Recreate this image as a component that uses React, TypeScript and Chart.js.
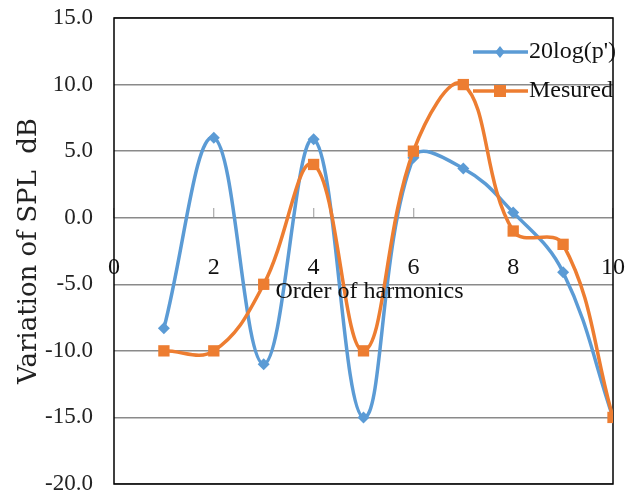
import { useEffect, useRef } from 'react';
import { Chart, registerables } from 'chart.js';

Chart.register(...registerables);

// ---- data ----
const harmonics = [1, 2, 3, 4, 5, 6, 7, 8, 9, 10];
const calc20log = [-8.3, 6.0, -11.0, 5.9, -15.0, 4.5, 3.7, 0.4, -4.1, -15.0];
const measured = [-10.0, -10.0, -5.0, 4.0, -10.0, 5.0, 10.0, -1.0, -2.0, -15.0];
const seriesLabels = ["20log(p')", 'Mesured'];
const seriesColors = ['#5B9BD5', '#ED7D31'];
const xTickValues = [0, 2, 4, 6, 8, 10];
const yTickValues = [-20, -15, -10, -5, 0, 5, 10, 15];
const xTitle = 'Order of harmonics';
const yTitle = 'Variation of SPL  dB';

const SERIF = '"Liberation Serif", "Times New Roman", serif';

const framePlugin = {
  id: 'frame',
  beforeDatasetsDraw(chart: any) {
    const { ctx, chartArea: a } = chart;
    ctx.save();
    ctx.strokeStyle = '#000';
    ctx.lineWidth = 1.5;
    ctx.strokeRect(a.left, a.top, a.right - a.left, a.bottom - a.top);
    ctx.restore();
  },
};

const xTitlePlugin = {
  id: 'xTitleOnZero',
  afterDraw(chart: any) {
    const { ctx, chartArea: a, scales } = chart;
    const y0 = scales.y.getPixelForValue(0);
    ctx.save();
    ctx.font = `24px ${SERIF}`;
    ctx.fillStyle = '#111';
    ctx.textAlign = 'center';
    ctx.textBaseline = 'middle';
    ctx.fillText(xTitle, (a.left + a.right) / 2 + 6, y0 + 74);
    ctx.restore();
  },
};

function drawMarker(ctx: CanvasRenderingContext2D, style: string, x: number, y: number, r: number) {
  ctx.beginPath();
  if (style === 'rectRot') {
    ctx.moveTo(x, y - r);
    ctx.lineTo(x + r * 0.8, y);
    ctx.lineTo(x, y + r);
    ctx.lineTo(x - r * 0.8, y);
    ctx.closePath();
  } else {
    const s = r * 0.75;
    ctx.rect(x - s, y - s, 2 * s, 2 * s);
  }
  ctx.fill();
}

const legendPlugin = {
  id: 'insideLegend',
  afterDraw(chart: any) {
    const { ctx, chartArea: a } = chart;
    ctx.save();
    chart.data.datasets.forEach((ds: any, i: number) => {
      const y = a.top + 34 + i * 39;
      const x0 = a.right - 140;
      ctx.strokeStyle = ds.borderColor;
      ctx.lineWidth = 3.5;
      ctx.beginPath();
      ctx.moveTo(x0, y);
      ctx.lineTo(x0 + 55, y);
      ctx.stroke();
      ctx.fillStyle = ds.backgroundColor;
      drawMarker(ctx, ds.pointStyle, x0 + 27, y, ds.pointStyle === 'rect' ? 8 : 6);
      ctx.font = `24px ${SERIF}`;
      ctx.fillStyle = '#111';
      ctx.textAlign = 'left';
      ctx.textBaseline = 'middle';
      ctx.fillText(ds.label, a.right - 84, y);
    });
    ctx.restore();
  },
};

export default function App() {
  const ref = useRef<HTMLCanvasElement | null>(null);

  useEffect(() => {
    if (!ref.current) return;
    const chart = new Chart(ref.current, {
      type: 'line',
      data: {
        datasets: [
          {
            label: seriesLabels[0],
            data: harmonics.map((h, i) => ({ x: h, y: calc20log[i] })),
            borderColor: seriesColors[0],
            backgroundColor: seriesColors[0],
            borderWidth: 3.5,
            pointStyle: 'rectRot',
            pointRadius: 6,
            pointBorderWidth: 0,
            tension: 0.4,
            order: 1,
          },
          {
            label: seriesLabels[1],
            data: harmonics.map((h, i) => ({ x: h, y: measured[i] })),
            borderColor: seriesColors[1],
            backgroundColor: seriesColors[1],
            borderWidth: 3.5,
            pointStyle: 'rect',
            pointRadius: 8,
            pointBorderWidth: 0,
            tension: 0.4,
            order: 0,
          },
        ],
      },
      options: {
        animation: false,
        responsive: false,
        layout: { padding: { top: 18, right: 25, bottom: 13, left: 0 } },
        plugins: {
          legend: { display: false },
          tooltip: { enabled: false },
        },
        scales: {
          x: {
            type: 'linear',
            min: 0,
            max: 10,
            position: { y: 0 },
            afterBuildTicks: (s: any) => {
              s.ticks = xTickValues.map((v) => ({ value: v }));
            },
            afterFit: (s: any) => {
              s.height = 0;
              s.paddingTop = 0;
              s.paddingBottom = 0;
              s.paddingLeft = 0;
              s.paddingRight = 0;
            },
            ticks: {
              font: { family: SERIF, size: 24 },
              color: '#111',
              padding: 46,
            },
            grid: {
              drawOnChartArea: false,
              drawTicks: true,
              tickLength: -10,
              tickWidth: 1,
              tickColor: '#999',
              color: '#888',
              lineWidth: 1.5,
            },
            border: { display: false },
          },
          y: {
            type: 'linear',
            min: -20,
            max: 15,
            afterBuildTicks: (s: any) => {
              s.ticks = yTickValues.map((v) => ({ value: v }));
            },
            afterFit: (s: any) => {
              s.width = 114;
              s.paddingTop = 0;
              s.paddingBottom = 0;
            },
            ticks: {
              font: { family: SERIF, size: 23 },
              color: '#222',
              padding: 21,
              callback: (v: any) => Number(v).toFixed(1),
            },
            grid: {
              drawTicks: false,
              color: '#8a8a8a',
              lineWidth: 1.5,
            },
            border: { display: false },
            title: {
              display: true,
              text: yTitle,
              font: { family: '"DejaVu Serif", serif', size: 26 },
              color: '#222',
              padding: { top: 14, bottom: 0 },
            },
          },
        },
      },
      plugins: [framePlugin, xTitlePlugin, legendPlugin],
    } as any);
    return () => chart.destroy();
  }, []);

  return (
    <div style={{ position: 'absolute', left: 0, top: 0, width: 638, height: 497, background: '#fff' }}>
      <canvas ref={ref} width={638} height={497} />
    </div>
  );
}
